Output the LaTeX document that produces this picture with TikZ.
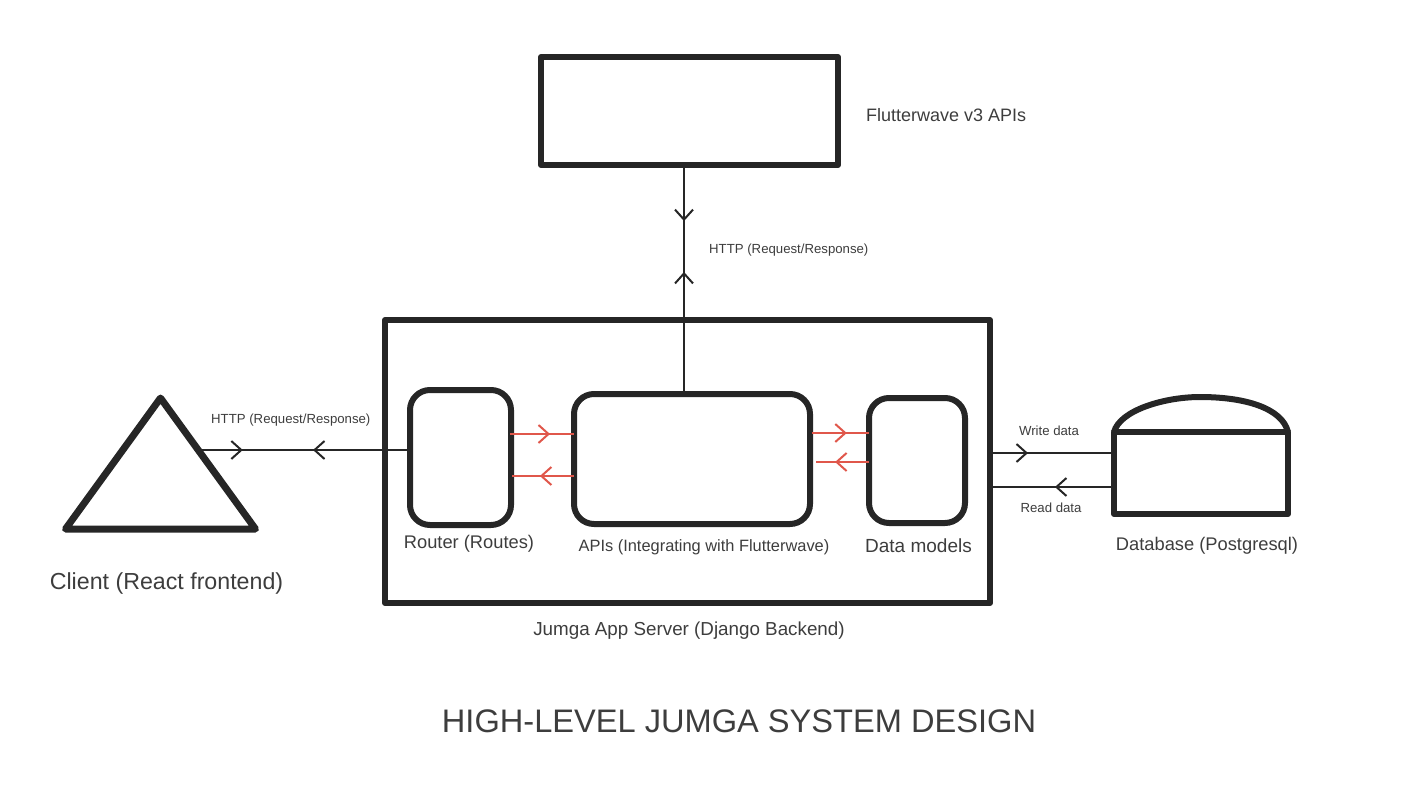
\documentclass[tikz,border=0pt]{standalone}
\usepackage{fontspec}
\setmainfont{Liberation Sans}
\usetikzlibrary{arrows.meta,decorations.markings,shapes.geometric}
\definecolor{inkdark}{HTML}{262626}
\definecolor{inktext}{HTML}{3D3D3D}
\definecolor{inkred}{HTML}{E0574B}

\begin{document}
\begin{tikzpicture}
			[x=1pt,y=-1pt,
			box/.style={draw=inkdark,line width=6pt,line join=round,inner sep=0pt,outer sep=0pt},
			rbox/.style={box,rounded corners=20pt},
			edge/.style={draw=inkdark,line width=2pt},
			redge/.style={draw=inkred,line width=2pt},
			tipat/.style={postaction={decorate,decoration={markings,mark=at position #1 with {\arrow[line width=2pt]{Straight Barb[length=10pt,width=18pt]}}}}},
			label/.style={text=inktext,inner sep=0pt,font=\fontsize{18.3}{20}\selectfont},
			small/.style={text=inktext,inner sep=0pt,font=\fontsize{13.2}{15}\selectfont}]
			\useasboundingbox (0,0) rectangle (1422,800);
			
			\node[box,minimum width=297pt,minimum height=108pt] (flutter) at (689.5,111) {};
			\node[box,minimum width=605pt,minimum height=283pt] (server) at (687.5,461.5) {};
			\node[rbox,minimum width=101pt,minimum height=135pt] (router) at (460.5,457.5) {};
			\node[rbox,minimum width=236pt,minimum height=130pt] (apis) at (692,459) {};
			\node[rbox,minimum width=96pt,minimum height=125pt] (models) at (917,460.5) {};
			\node[box,minimum width=174pt,minimum height=82pt] (db) at (1201,473) {};
			\node[box,line width=7pt,shape=isosceles triangle,isosceles triangle stretches,shape border rotate=90,minimum width=190pt,minimum height=131pt,anchor=apex] (client) at (160.5,398) {};
			
			\draw[box] (db.north west) .. controls (1120,410) and (1165,397) .. (1200,397) .. controls (1245,397) and (1282,408) .. (db.north east);
			
			\coordinate (clientport) at (201,450);
			\coordinate (httpport) at (684,280);
			\coordinate (writeport) at (992,453);
			\coordinate (readport) at (992,487);
			\coordinate (redtopl) at (510,434);
			\coordinate (redlowl) at (512,476);
			\coordinate (redtopr) at (812,433);
			\coordinate (redlowr) at (816,462);
			
			\path[edge,tipat=0.2] (clientport) -- (clientport -| router.west);
			\path[edge,tipat=0.464] (clientport -| router.west) -- (clientport);
			\path[edge,tipat=0.245] (httpport |- flutter.south) -- (httpport |- apis.north);
			\path[edge,tipat=0.533] (httpport |- apis.north) -- (httpport |- flutter.south);
			\path[edge,tipat=0.295] (writeport) -- (writeport -| db.west);
			\path[edge,tipat=0.484] (readport -| db.west) -- (readport);
			
			\path[redge,tipat=0.625] (redtopl) -- (redtopl -| apis.west);
			\path[redge,tipat=0.55] (redlowl -| apis.west) -- (redlowl);
			\path[redge,tipat=0.61] (redtopr) -- (redtopr -| models.west);
			\path[redge,tipat=0.64] (redlowr -| models.west) -- (redlowr);
			
			\node[label,anchor=west,font=\fontsize{18}{20}\selectfont] (flutterlabel) at (866,115) {Flutterwave v3 APIs};
			\node[small,anchor=west] (httptop) at (709,250) {HTTP (Request/Response)};
			\node[small,anchor=west] (httpleft) at (211,420) {HTTP (Request/Response)};
			\node[small] (writelabel) at (1049,431) {Write data};
			\node[small] (readlabel) at (1051,508) {Read data};
			\node[label] (routerlabel) at (469,543.5) {Router (Routes)};
			\node[label,font=\fontsize{16.4}{18}\selectfont] (apislabel) at (704,547.5) {APIs (Integrating with Flutterwave)};
			\node[label,font=\fontsize{19}{20}\selectfont] (modelslabel) at (918.5,545.5) {Data models};
			\node[label] (dblabel) at (1207,545.5) {Database (Postgresql)};
			\node[label,font=\fontsize{18.8}{20}\selectfont] (serverlabel) at (689,630.5) {Jumga App Server (Django Backend)};
			\node[label,font=\fontsize{23.2}{24}\selectfont] (clientlabel) at (166.5,583) {Client (React frontend)};
			\node[label,font=\fontsize{32.6}{34}\selectfont] (title) at (739,721) {HIGH-LEVEL JUMGA SYSTEM DESIGN};
\end{tikzpicture}
\end{document}
